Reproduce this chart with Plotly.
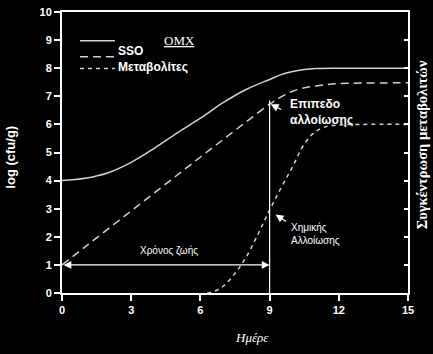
import plotly.graph_objects as go

# ---- data ----
omx_days = [0, 1, 2, 3, 4, 5, 6, 7, 8, 9, 9.5, 10, 10.5, 11, 12, 13, 14, 15]
omx_log = [4.0, 4.08, 4.28, 4.65, 5.15, 5.7, 6.22, 6.78, 7.25, 7.6, 7.77, 7.88, 7.95, 7.99, 8.0, 8.0, 8.0, 8.0]

sso_days = [0, 1, 2, 3, 4, 5, 6, 7, 8, 9, 9.5, 10, 10.5, 11, 11.5, 12, 13, 15]
sso_log = [1.0, 1.64, 2.28, 2.92, 3.56, 4.2, 4.84, 5.47, 6.1, 6.72, 6.98, 7.18, 7.3, 7.37, 7.42, 7.45, 7.47, 7.48]

met_days = [6.3, 6.6, 7, 7.5, 8, 8.5, 9, 9.5, 10, 10.5, 11, 11.5, 12, 13, 15]
met_conc = [0.0, 0.06, 0.25, 0.7, 1.3, 2.1, 2.95, 3.75, 4.5, 5.3, 5.75, 5.93, 5.98, 6.0, 6.0]

x_ticks = [0, 3, 6, 9, 12, 15]
y_ticks = list(range(0, 11))

shelf_life_day = 9
shelf_arrow_level = 1
spoilage_level = 6.85
spoil_point = (9.05, 6.72)
chem_point = (9.26, 2.79)

curve_color = "#d2d2d2"
white = "#ffffff"

fig = go.Figure()
fig.add_trace(go.Scatter(x=omx_days, y=omx_log, mode="lines", line=dict(color=curve_color, width=1.5, shape="spline"),
                         showlegend=False, hoverinfo="skip"))
fig.add_trace(go.Scatter(x=sso_days, y=sso_log, mode="lines",
                         line=dict(color=curve_color, width=1.5, dash="8px,5px", shape="spline"),
                         showlegend=False, hoverinfo="skip"))
fig.add_trace(go.Scatter(x=met_days, y=met_conc, mode="lines", yaxis="y2",
                         line=dict(color=curve_color, width=1.5, dash="4px,4px", shape="spline"),
                         showlegend=False, hoverinfo="skip"))

# vertical spoilage line
fig.add_shape(type="line", x0=shelf_life_day, x1=shelf_life_day, y0=0, y1=spoilage_level,
              xref="x", yref="y", line=dict(color=white, width=1.2))

tickfont = dict(family="Liberation Sans, Arial", size=11, color=white, weight="bold")


def px_x(p):
    return (p - 62) / 346.5


def px_y(p):
    return (293.3 - p) / 287


def label(px, py, text, font, angle=0, xanchor="center"):
    return dict(x=px_x(px), y=px_y(py), xref="paper", yref="paper", text=text, showarrow=False,
                xanchor=xanchor, yanchor="middle", textangle=angle, align="left", font=font)


sans = "Liberation Sans, Arial"
serif = "Liberation Serif, Times New Roman"
ann = []
# double arrow (shelf life)
ann.append(dict(x=shelf_life_day, y=shelf_arrow_level, ax=0, ay=shelf_arrow_level, xref="x", yref="y",
                axref="x", ayref="y", text="", showarrow=True, arrowhead=2, arrowside="end+start",
                arrowsize=1.3, arrowwidth=1.2, arrowcolor=white, standoff=0, startstandoff=0))
ann.append(label(169, 250, "Χρόνος ζωής", dict(family=sans, size=10, color=white)))
# spoilage level
ann.append(dict(x=spoil_point[0], y=spoil_point[1], xref="x", yref="y", text="", showarrow=True,
                ax=12, ay=6, arrowhead=2, arrowsize=1.3, arrowwidth=1.2, arrowcolor=white, standoff=0))
ann.append(label(288, 108, "Επιπεδο<br>αλλοίωσης", dict(family=sans, size=12, color=white, weight="bold"),
                 xanchor="left"))
# chemical spoilage
ann.append(dict(x=chem_point[0], y=chem_point[1], xref="x", yref="y", text="", showarrow=True,
                ax=12, ay=8, arrowhead=2, arrowsize=1.3, arrowwidth=1.2, arrowcolor=white, standoff=0))
ann.append(label(289, 233, "Χημικής<br>Αλλοίωσης", dict(family=sans, size=10, color=white), xanchor="left"))
# legend texts
ann.append(label(180, 35, "<u>ΟΜΧ</u>", dict(family=serif, size=13, color=white)))
ann.append(label(116, 46, "SSO", dict(family=sans, size=12, color=white, weight="bold"), xanchor="left"))
ann.append(label(116, 62, "Μεταβολίτες", dict(family=sans, size=12, color=white, weight="bold"), xanchor="left"))
# axis titles
ann.append(label(11, 155, "log (cfu/g)", dict(family=sans, size=13, color=white, weight="bold"), angle=-90))
ann.append(label(422, 142, "Συγκέντρωση μεταβολιτών", dict(family=serif, size=14.5, color=white, weight="bold"),
                 angle=-90))
ann.append(label(252, 339, "Ημέρε", dict(family=serif, size=13, color=white, style="italic")))

# legend sample lines
fig.add_shape(type="line", xref="paper", yref="paper", x0=px_x(80), x1=px_x(115), y0=px_y(35.7), y1=px_y(35.7),
              line=dict(color=curve_color, width=1.5))
fig.add_shape(type="line", xref="paper", yref="paper", x0=px_x(80), x1=px_x(115), y0=px_y(52), y1=px_y(52),
              line=dict(color=curve_color, width=1.5, dash="8px,5px"))
fig.add_shape(type="line", xref="paper", yref="paper", x0=px_x(80), x1=px_x(115), y0=px_y(64), y1=px_y(64),
              line=dict(color=curve_color, width=1.5, dash="4px,4px"))

fig.update_layout(
    width=433, height=354,
    margin=dict(l=62, r=24.5, t=6, b=61),
    paper_bgcolor="black", plot_bgcolor="black",
    showlegend=False,
    annotations=ann,
    xaxis=dict(range=[0, 15], tickvals=x_ticks, ticktext=[f"<b>{v}</b>" for v in x_ticks],
               ticks="outside", ticklen=6, tickwidth=2, tickcolor=white,
               showline=True, linecolor=white, linewidth=2, mirror=True, showgrid=False, zeroline=False,
               tickfont=tickfont),
    yaxis=dict(range=[0, 10], tickvals=y_ticks, ticktext=[f"<b>{v}</b>" for v in y_ticks],
               ticks="outside", ticklen=6, tickwidth=2, tickcolor=white,
               showline=True, linecolor=white, linewidth=2, showgrid=False, zeroline=False, tickfont=tickfont),
    yaxis2=dict(range=[0, 10], tickvals=y_ticks, overlaying="y", side="right", ticks="inside", ticklen=4,
                tickwidth=2, tickcolor=white, showline=True, linecolor=white, linewidth=2, showgrid=False,
                zeroline=False, showticklabels=False),
)

fig.write_html("out.html")
